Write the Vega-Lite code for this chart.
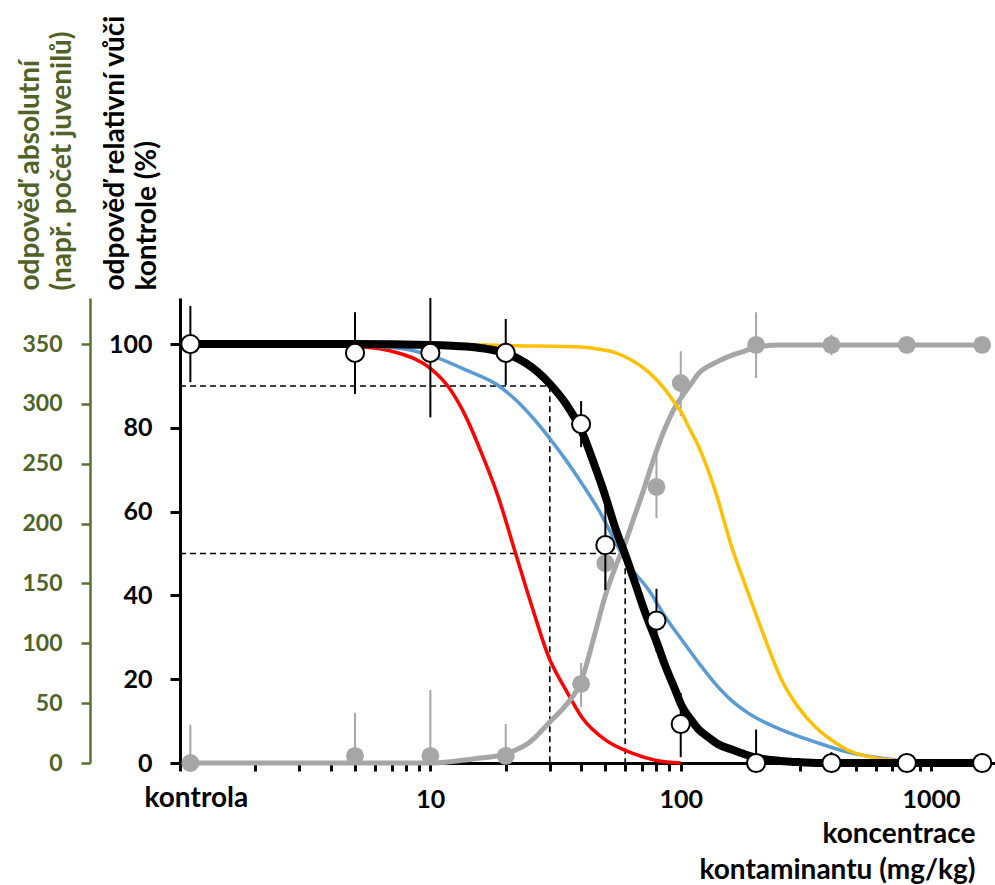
{
  "$schema": "https://vega.github.io/schema/vega-lite/v6.json",
  "width": 815,
  "height": 465,
  "autosize": {"type": "none"},
  "padding": {"left": 180, "top": 298, "right": 0, "bottom": 122},
  "config": {"font": "Lato", "view": {"stroke": null}, "axis": {"grid": false}},
  "datasets": {
    "curves": [
      {"c": "black", "x": 1.1, "y": 100}, {"c": "black", "x": 5, "y": 100}, {"c": "black", "x": 10, "y": 99.8}, {"c": "black", "x": 14, "y": 99.4}, {"c": "black", "x": 17, "y": 98.8}, {"c": "black", "x": 20, "y": 97.8}, {"c": "black", "x": 24, "y": 95.5}, {"c": "black", "x": 27, "y": 93.2}, {"c": "black", "x": 30, "y": 90.5}, {"c": "black", "x": 35, "y": 85.5}, {"c": "black", "x": 40, "y": 79.5}, {"c": "black", "x": 45, "y": 71.5}, {"c": "black", "x": 50, "y": 63.7}, {"c": "black", "x": 55, "y": 55.8}, {"c": "black", "x": 60, "y": 49.8}, {"c": "black", "x": 65, "y": 43.8}, {"c": "black", "x": 72, "y": 36}, {"c": "black", "x": 80, "y": 29}, {"c": "black", "x": 87, "y": 23}, {"c": "black", "x": 95, "y": 17.5}, {"c": "black", "x": 101, "y": 13.6}, {"c": "black", "x": 110, "y": 10.3}, {"c": "black", "x": 118, "y": 8}, {"c": "black", "x": 130, "y": 6}, {"c": "black", "x": 140, "y": 4.6}, {"c": "black", "x": 160, "y": 3.2}, {"c": "black", "x": 180, "y": 2.1}, {"c": "black", "x": 203, "y": 1.2}, {"c": "black", "x": 250, "y": 0.5}, {"c": "black", "x": 300, "y": 0.2}, {"c": "black", "x": 400, "y": 0}, {"c": "black", "x": 800, "y": 0}, {"c": "black", "x": 1600, "y": 0},
      {"c": "grey", "x": 1.1, "y": 0}, {"c": "grey", "x": 10, "y": 0}, {"c": "grey", "x": 12, "y": 0.3}, {"c": "grey", "x": 15, "y": 1}, {"c": "grey", "x": 20, "y": 2.2}, {"c": "grey", "x": 25, "y": 5}, {"c": "grey", "x": 30, "y": 9.8}, {"c": "grey", "x": 35, "y": 14}, {"c": "grey", "x": 40, "y": 19.5}, {"c": "grey", "x": 45, "y": 30}, {"c": "grey", "x": 50, "y": 40}, {"c": "grey", "x": 55, "y": 47}, {"c": "grey", "x": 60, "y": 52.5}, {"c": "grey", "x": 65, "y": 58.5}, {"c": "grey", "x": 70, "y": 64}, {"c": "grey", "x": 75, "y": 69.5}, {"c": "grey", "x": 80, "y": 74.5}, {"c": "grey", "x": 87, "y": 80.2}, {"c": "grey", "x": 95, "y": 85}, {"c": "grey", "x": 101, "y": 87.4}, {"c": "grey", "x": 110, "y": 90.5}, {"c": "grey", "x": 118, "y": 93}, {"c": "grey", "x": 137, "y": 95.5}, {"c": "grey", "x": 155, "y": 97}, {"c": "grey", "x": 175, "y": 98.1}, {"c": "grey", "x": 203, "y": 99.3}, {"c": "grey", "x": 250, "y": 99.8}, {"c": "grey", "x": 1600, "y": 99.8},
      {"c": "red", "x": 1.1, "y": 100}, {"c": "red", "x": 5, "y": 99.4}, {"c": "red", "x": 7.5, "y": 97.8}, {"c": "red", "x": 10, "y": 94.2}, {"c": "red", "x": 11.9, "y": 89.5}, {"c": "red", "x": 13.9, "y": 82.5}, {"c": "red", "x": 16, "y": 74}, {"c": "red", "x": 18.8, "y": 63}, {"c": "red", "x": 21.4, "y": 52}, {"c": "red", "x": 25.5, "y": 37.2}, {"c": "red", "x": 29.7, "y": 25.3}, {"c": "red", "x": 34.8, "y": 17.4}, {"c": "red", "x": 40.2, "y": 11}, {"c": "red", "x": 50, "y": 5.5}, {"c": "red", "x": 63.5, "y": 2.4}, {"c": "red", "x": 80, "y": 0.6}, {"c": "red", "x": 100, "y": 0},
      {"c": "blue", "x": 1.1, "y": 100}, {"c": "blue", "x": 5, "y": 99.6}, {"c": "blue", "x": 7.5, "y": 99}, {"c": "blue", "x": 10, "y": 97.3}, {"c": "blue", "x": 13.9, "y": 93.8}, {"c": "blue", "x": 18.8, "y": 90}, {"c": "blue", "x": 22, "y": 86.6}, {"c": "blue", "x": 25.5, "y": 82.6}, {"c": "blue", "x": 29.7, "y": 77.8}, {"c": "blue", "x": 34.8, "y": 72.3}, {"c": "blue", "x": 40.2, "y": 66.8}, {"c": "blue", "x": 47, "y": 60.4}, {"c": "blue", "x": 53, "y": 54.5}, {"c": "blue", "x": 60, "y": 48.4}, {"c": "blue", "x": 74.5, "y": 41.3}, {"c": "blue", "x": 87, "y": 34.8}, {"c": "blue", "x": 101, "y": 29.4}, {"c": "blue", "x": 118, "y": 23.9}, {"c": "blue", "x": 137, "y": 19}, {"c": "blue", "x": 159, "y": 15}, {"c": "blue", "x": 186, "y": 11.9}, {"c": "blue", "x": 253, "y": 7.9}, {"c": "blue", "x": 345, "y": 5}, {"c": "blue", "x": 465, "y": 2.6}, {"c": "blue", "x": 630, "y": 1.2}, {"c": "blue", "x": 740, "y": 0.6}, {"c": "blue", "x": 800, "y": 0.3},
      {"c": "gold", "x": 1.1, "y": 100}, {"c": "gold", "x": 10, "y": 100}, {"c": "gold", "x": 22, "y": 99.6}, {"c": "gold", "x": 40, "y": 99.3}, {"c": "gold", "x": 45.7, "y": 98.9}, {"c": "gold", "x": 55, "y": 97.9}, {"c": "gold", "x": 63.5, "y": 96.2}, {"c": "gold", "x": 74.5, "y": 93.3}, {"c": "gold", "x": 87, "y": 89}, {"c": "gold", "x": 95, "y": 85.8}, {"c": "gold", "x": 101, "y": 83.5}, {"c": "gold", "x": 107, "y": 80.5}, {"c": "gold", "x": 118, "y": 75.5}, {"c": "gold", "x": 137, "y": 65.2}, {"c": "gold", "x": 159, "y": 52}, {"c": "gold", "x": 186, "y": 40.6}, {"c": "gold", "x": 218, "y": 29.4}, {"c": "gold", "x": 253, "y": 19.8}, {"c": "gold", "x": 294, "y": 13.4}, {"c": "gold", "x": 345, "y": 8.6}, {"c": "gold", "x": 400, "y": 5.5}, {"c": "gold", "x": 465, "y": 3.1}, {"c": "gold", "x": 545, "y": 1.7}, {"c": "gold", "x": 630, "y": 1}, {"c": "gold", "x": 740, "y": 0.5}, {"c": "gold", "x": 800, "y": 0.3}
    ],
    "pts": [
      {"s": "rel", "x": 1.1, "y": 100, "lo": 90.9, "hi": 109.1},
      {"s": "rel", "x": 5, "y": 97.9, "lo": 88.1, "hi": 107.6},
      {"s": "rel", "x": 10, "y": 97.9, "lo": 82.5, "hi": 111},
      {"s": "rel", "x": 20, "y": 97.9, "lo": 90.2, "hi": 106},
      {"s": "rel", "x": 40, "y": 80.9, "lo": 75.4, "hi": 86.4},
      {"s": "rel", "x": 50, "y": 52, "lo": 41.3, "hi": 61.6},
      {"s": "rel", "x": 80, "y": 34, "lo": 26.6, "hi": 41.6},
      {"s": "rel", "x": 100, "y": 9.3, "lo": 1.4, "hi": 16.7},
      {"s": "rel", "x": 200, "y": 0, "lo": 0, "hi": 8},
      {"s": "rel", "x": 400, "y": 0, "lo": 0, "hi": 2.6},
      {"s": "rel", "x": 800, "y": 0, "lo": 0, "hi": 0},
      {"s": "rel", "x": 1600, "y": 0, "lo": 0, "hi": 0},
      {"s": "abs", "x": 1.1, "y": 0, "lo": 0, "hi": 9.1},
      {"s": "abs", "x": 5, "y": 1.7, "lo": 0, "hi": 12},
      {"s": "abs", "x": 10, "y": 1.7, "lo": 0, "hi": 17.4},
      {"s": "abs", "x": 20, "y": 1.7, "lo": 0, "hi": 9.3},
      {"s": "abs", "x": 40, "y": 18.9, "lo": 13.4, "hi": 23.9},
      {"s": "abs", "x": 50, "y": 47.7, "lo": 41.3, "hi": 54},
      {"s": "abs", "x": 80, "y": 65.9, "lo": 58.5, "hi": 74},
      {"s": "abs", "x": 100, "y": 90.7, "lo": 82.8, "hi": 98.3},
      {"s": "abs", "x": 200, "y": 99.8, "lo": 91.9, "hi": 107.6},
      {"s": "abs", "x": 400, "y": 99.8, "lo": 97.4, "hi": 102.2},
      {"s": "abs", "x": 800, "y": 99.8, "lo": 99.8, "hi": 99.8},
      {"s": "abs", "x": 1600, "y": 99.8, "lo": 99.8, "hi": 99.8}
    ],
    "dash": [
      {"g": "a", "o": 1, "x": 1, "y": 90}, {"g": "a", "o": 2, "x": 30, "y": 90}, {"g": "a", "o": 3, "x": 30, "y": 0},
      {"g": "b", "o": 1, "x": 1, "y": 50}, {"g": "b", "o": 2, "x": 60, "y": 50}, {"g": "b", "o": 3, "x": 60, "y": 0}
    ]
  },
  "layer": [
    {
      "data": {"values": [{"abs": 0}, {"abs": 350}]},
      "mark": {"type": "rule", "opacity": 0},
      "encoding": {
        "y": {
          "field": "abs", "type": "quantitative",
          "scale": {"domain": [0, 388.5], "nice": false, "zero": false},
          "axis": {
            "orient": "left", "offset": 90,
            "values": [0, 50, 100, 150, 200, 250, 300, 350],
            "domainColor": "#5b7031", "domainWidth": 2.5,
            "tickColor": "#5b7031", "tickWidth": 2.5, "tickSize": 9,
            "labelColor": "#4f6228", "labelFont": "Lato", "labelFontWeight": "bold", "labelFontSize": 23, "labelPadding": 19,
            "title": ["odpověď absolutní", "(např. počet juvenilů)"],
            "titleColor": "#4f6228", "titleFont": "Lato", "titleFontWeight": "bold", "titleFontSize": 28,
            "titleAngle": 270, "titleAlign": "left", "titleBaseline": "alphabetic",
            "titleX": -52, "titleY": -8, "titleLineHeight": 32
          }
        }
      }
    },
    {
      "layer": [
        {
          "data": {"name": "dash"},
          "mark": {"type": "line", "color": "black", "strokeWidth": 1.6, "strokeDash": [6, 4]},
          "encoding": {
            "x": {
              "field": "x", "type": "quantitative",
              "scale": {"type": "log", "domain": [1, 1800], "nice": false},
              "axis": {
                "values": [1, 2, 3, 4, 5, 6, 7, 8, 9, 10, 20, 30, 40, 50, 60, 70, 80, 90, 100, 200, 300, 400, 500, 600, 700, 800, 900, 1000],
                "labelExpr": "datum.value == 10 ? '10' : datum.value == 100 ? '100' : datum.value == 1000 ? '1000' : ''",
                "domainColor": "black", "domainWidth": 3,
                "tickColor": "black", "tickWidth": 3, "tickSize": 8,
                "labelColor": "black", "labelFont": "Lato", "labelFontWeight": "bold", "labelFontSize": 25, "labelPadding": 16,
                "labelOverlap": false, "labelFlush": false,
                "title": ["koncentrace", "kontaminantu (mg/kg)"],
                "titleColor": "black", "titleFont": "Lato", "titleFontWeight": "bold", "titleFontSize": 28,
                "titleAlign": "right", "titleAnchor": "end", "titleBaseline": "alphabetic",
                "titleX": 795, "titleY": 79, "titleLineHeight": 36
              }
            },
            "y": {
              "field": "y", "type": "quantitative",
              "scale": {"domain": [0, 111], "nice": false, "zero": false},
              "axis": {
                "orient": "left", "offset": 0,
                "values": [0, 20, 40, 60, 80, 100],
                "domainColor": "black", "domainWidth": 3,
                "tickColor": "black", "tickWidth": 3, "tickSize": 10,
                "labelColor": "black", "labelFont": "Lato", "labelFontWeight": "bold", "labelFontSize": 25, "labelPadding": 18,
                "title": ["odpověď relativní vůči", "kontrole (%)"],
                "titleColor": "black", "titleFont": "Lato", "titleFontWeight": "bold", "titleFontSize": 28,
                "titleAngle": 270, "titleAlign": "left", "titleBaseline": "alphabetic",
                "titleX": -57, "titleY": -8, "titleLineHeight": 32
              }
            },
            "detail": {"field": "g"},
            "order": {"field": "o"}
          }
        },
        {
          "data": {"name": "curves"},
          "transform": [{"filter": "datum.c == 'red'"}],
          "mark": {"type": "line", "color": "#ff0000", "strokeWidth": 3.5, "interpolate": "monotone"},
          "encoding": {
            "x": {"field": "x", "type": "quantitative"},
            "y": {"field": "y", "type": "quantitative"}
          }
        },
        {
          "data": {"name": "curves"},
          "transform": [{"filter": "datum.c == 'blue'"}],
          "mark": {"type": "line", "color": "#5b9bd5", "strokeWidth": 3.5, "interpolate": "monotone"},
          "encoding": {
            "x": {"field": "x", "type": "quantitative"},
            "y": {"field": "y", "type": "quantitative"}
          }
        },
        {
          "data": {"name": "pts"},
          "transform": [{"filter": "datum.s == 'abs'"}],
          "mark": {"type": "rule", "color": "#a6a6a6", "strokeWidth": 2},
          "encoding": {
            "x": {"field": "x", "type": "quantitative"},
            "y": {"field": "lo", "type": "quantitative"},
            "y2": {"field": "hi"}
          }
        },
        {
          "data": {"name": "curves"},
          "transform": [{"filter": "datum.c == 'grey'"}],
          "mark": {"type": "line", "color": "#a6a6a6", "strokeWidth": 5, "interpolate": "monotone"},
          "encoding": {
            "x": {"field": "x", "type": "quantitative"},
            "y": {"field": "y", "type": "quantitative"}
          }
        },
        {
          "data": {"name": "pts"},
          "transform": [{"filter": "datum.s == 'abs'"}],
          "mark": {"type": "circle", "color": "#a6a6a6", "opacity": 1, "size": 320},
          "encoding": {
            "x": {"field": "x", "type": "quantitative"},
            "y": {"field": "y", "type": "quantitative"}
          }
        },
        {
          "data": {"name": "curves"},
          "transform": [{"filter": "datum.c == 'gold'"}],
          "mark": {"type": "line", "color": "#ffc000", "strokeWidth": 3.5, "interpolate": "monotone"},
          "encoding": {
            "x": {"field": "x", "type": "quantitative"},
            "y": {"field": "y", "type": "quantitative"}
          }
        },
        {
          "data": {"name": "pts"},
          "transform": [{"filter": "datum.s == 'rel'"}],
          "mark": {"type": "rule", "color": "black", "strokeWidth": 2},
          "encoding": {
            "x": {"field": "x", "type": "quantitative"},
            "y": {"field": "lo", "type": "quantitative"},
            "y2": {"field": "hi"}
          }
        },
        {
          "data": {"name": "curves"},
          "transform": [{"filter": "datum.c == 'black'"}],
          "mark": {"type": "line", "color": "black", "strokeWidth": 8, "interpolate": "monotone"},
          "encoding": {
            "x": {"field": "x", "type": "quantitative"},
            "y": {"field": "y", "type": "quantitative"}
          }
        },
        {
          "data": {"name": "pts"},
          "transform": [{"filter": "datum.s == 'rel'"}],
          "mark": {"type": "point", "shape": "circle", "filled": false, "fill": "white", "fillOpacity": 1, "stroke": "black", "strokeWidth": 2, "opacity": 1, "size": 330},
          "encoding": {
            "x": {"field": "x", "type": "quantitative"},
            "y": {"field": "y", "type": "quantitative"}
          }
        },
        {
          "data": {"values": [{"x": 1.1, "y": 0, "label": "kontrola"}]},
          "mark": {"type": "text", "font": "Lato", "fontWeight": "bold", "fontSize": 28, "color": "black", "baseline": "alphabetic", "align": "center", "dx": 6, "dy": 44},
          "encoding": {
            "x": {"field": "x", "type": "quantitative"},
            "y": {"field": "y", "type": "quantitative"},
            "text": {"field": "label"}
          }
        }
      ]
    }
  ],
  "resolve": {"scale": {"y": "independent"}, "axis": {"y": "independent"}}
}
